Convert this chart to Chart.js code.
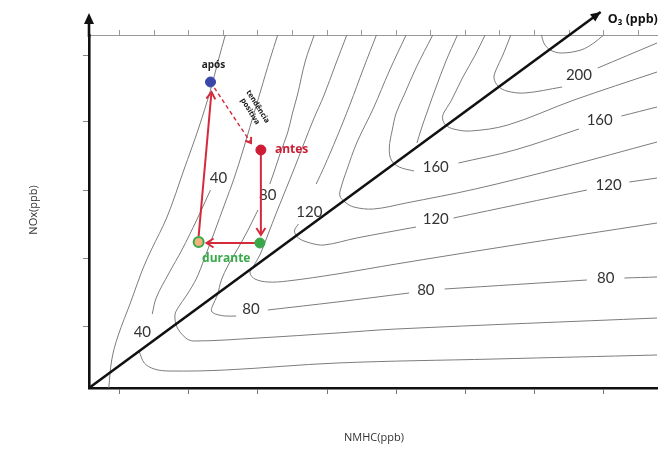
<!DOCTYPE html>
<html>
<head>
<meta charset="utf-8">
<script src="https://cdn.jsdelivr.net/npm/chart.js@4"></script>
<style>
  body{margin:0;background:#fff;}
  #wrap{width:664px;height:450px;}
</style>
</head>
<body>
<div id="wrap"><canvas id="isopleth" width="664" height="450"></canvas></div>
<script>
// axes have no numbers in the original, units are arbitrary ppb steps
const xMax = 115, yMax = 70.6, yArrowTip = 75;
const bottomTicks = [6.2,20.2,34.2,48.2,62.2,76.2,90.2,104.2];
const topTicks = [6.2,13.2,20.2,27.2,34.2,41.2,48.2,55.2,62.2,69.2,76.2,83.2,90.2,97.2,104.2,111.2];
const leftTicks = [12.4,26,39.6,53.2,66.6];

// ozone isopleths, x = NMHC, y = NOx  (null = gap left for a label)
const c20x = [27.6,26.2,24.6,22.2,19.2,15.8,12.6,10.8,8.6,5.8,4.6,4];
const c20y = [70.6,65.6,59.6,52,43.6,34.2,27.6,23.6,17.6,10.2,5.6,0];
const c40x = [24.6,21.8,18.8,16.2,13.6,12.8,11.5,10.2,11.2,13.2,16.2,27.6,50.2,82.2,115];
const c40y = [39.6,33.6,27.6,23,18,14.8,null,7.2,5,3.8,3.4,3.6,5,5.8,6.6];
const c60x = [38.2,36.6,34.8,33,31.2,29.4,27.4,25.4,23.4,21.8,19.8,18,17.4,17.8,19.6,21.2,34.2,50.2,62.2,115];
const c60y = [70.6,65.6,59.6,53.6,47.6,42,36.6,31.2,26,22,18.6,16,14.6,12.2,10,9.4,10,11,11.8,14];
const c80x = [45.6,43.8,42.2,41.2,40.2,38.8,37.6,36.6,35.4,34.2,32.2,30.2,28.2,26.8,26,25,24.8,25.6,27.6,29.8,33,36.2,50.2,64.8,68.4,72,100.8,104.6,108.4,115];
const c80y = [70.6,65.4,58.6,55,51,47.2,43.6,40.8,null,35.6,31.6,28,24.6,21.6,18.6,16.4,15.4,14.8,14.4,14.4,null,15.6,17.2,19,null,19.8,21.6,null,22,22.2];
const c100x = [52.2,49.8,47.6,45.4,43.4,41.6,39.8,38,36.2,34.6,33.2,32.6,33.6,36.2,40.2,50.2,62.2,83.6,115];
const c100y = [70.6,64.4,58.6,53.6,48.6,44,39.6,35.2,30.6,26.6,24.2,23,21.8,21.2,21.4,22.8,24.8,28.2,33];
const c120x = [58.2,55.6,52.8,50.2,47.6,46,44,42.4,41.6,42.4,44.8,47.6,54.2,66.2,70,73.8,100.8,105,109.4,115];
const c120y = [70.6,64,56.6,50.2,44.2,40.8,null,32.8,31.4,30,29,28.6,30,32.2,null,34,39.6,null,41.2,42];
const c140x = [64.2,60.8,57.6,54.2,52.2,51,50.8,51.8,53.6,57.6,64.2,78.2,96.2,115];
const c140y = [70.6,63.4,56,49,43.6,40,38.4,37.2,36.2,35.8,37,39.8,44.2,49.2];
const c160x = [69.6,66.2,63.8,62.2,61.4,60.8,61.2,62.8,65.8,70,74.8,86.2,99.2,103.4,107.8,115];
const c160y = [70.6,64,58.6,55,51.6,48,45.6,44.2,43.4,null,45,47.6,51.8,null,54.4,56.2];
const c170x = [74.6,72.2,70.2,68.6,67.2,66.4];
const c170y = [70.6,65.2,60,55.6,51.6,49];
const c180x = [80.2,78.2,75.6,73.2,71.8,71.6,72.2,73.8,77.2,84.8,98.2,115];
const c180y = [70.6,66.6,62,57.2,55,53.8,52.6,51.8,51.4,52.6,57.6,63.2];
const c200x = [85.4,83.8,82.4,82,82.8,84.6,88.2,95.8,99.2,103,115];
const c200y = [70.6,66.6,63.6,62,60.4,59.4,59,60.2,null,64,69];
const c220x = [91.6,92.2,93.4,95.6,99.6,102.2,104.2];
const c220y = [70.6,68.8,67.6,67,67.6,69,70.6];

const contourText = ['40','40','80','120','80','80','80','120','120','160','160','200'];
const contourLabX = [10.8,26.2,36.2,44.6,32.8,68.2,104.6,70.2,105.2,70.2,103.4,99.2];
const contourLabY = [11.2,42,38.6,35.2,15.8,19.6,22,33.8,40.6,44.2,53.6,62.6];

// ridge line (O3 axis)
const ridgeX = [0,103.6];
const ridgeY = [0,75.2];

// states: após, antes, durante, durante (start)
const stateX = [24.6,34.8,34.6,22.2];
const stateY = [61.2,47.6,29,29.2];
const arrowFromX = [34.8,33.6,22.2];
const arrowFromY = [47.6,29,30.4];
const arrowToX = [34.8,23.8,24.8];
const arrowToY = [30.6,29,59.2];
const trendX = [24.6,32.8];
const trendY = [61.2,49];

const red = '#d42a3c', green = '#38a848';

function pts(xs, ys) {
  return xs.map((v, i) => ({x: v, y: ys[i]}));
}

const contourSets = [[c20x,c20y],[c40x,c40y],[c60x,c60y],[c80x,c80y],[c100x,c100y],[c120x,c120y],
  [c140x,c140y],[c160x,c160y],[c170x,c170y],[c180x,c180y],[c200x,c200y],[c220x,c220y]];

const datasets = contourSets.map(c => ({
  data: pts(c[0], c[1]),
  showLine: true,
  borderColor: '#7c7c7c',
  borderWidth: 1,
  pointRadius: 0,
  tension: 0.35,
  spanGaps: false,
  order: 5
}));

datasets.push({
  data: pts(ridgeX, ridgeY),
  showLine: true, borderColor: '#111', borderWidth: 2.6, pointRadius: 0, clip: false, order: 3
});

for (let i = 0; i < arrowFromX.length; i++) {
  datasets.push({
    data: [{x: arrowFromX[i], y: arrowFromY[i]}, {x: arrowToX[i], y: arrowToY[i]}],
    showLine: true, borderColor: red, borderWidth: 2, pointRadius: 0, order: 2
  });
}
datasets.push({
  data: pts(trendX, trendY),
  showLine: true, borderColor: red, borderWidth: 1.4, borderDash: [4,3], pointRadius: 0, order: 2
});

datasets.push({
  data: pts(stateX, stateY),
  showLine: false,
  pointRadius: 5,
  pointBackgroundColor: ['#3a46a8','#cc1d34',green,'#f2b27c'],
  pointBorderColor: ['#3a46a8','#cc1d34',green,green],
  pointBorderWidth: [1,1,1,2],
  order: 0
});

function head(ctx, x0, y0, x1, y1, len, half, color, filled) {
  const a = Math.atan2(y1 - y0, x1 - x0);
  ctx.save();
  ctx.translate(x1, y1);
  ctx.rotate(a);
  ctx.beginPath();
  ctx.moveTo(-len, -half);
  ctx.lineTo(0, 0);
  ctx.lineTo(-len, half);
  if (filled) {
    ctx.closePath();
    ctx.fillStyle = color;
    ctx.fill();
  } else {
    ctx.strokeStyle = color;
    ctx.lineWidth = 2;
    ctx.stroke();
  }
  ctx.restore();
}

const deco = {
  id: 'deco',
  beforeDatasetsDraw(chart) {
    const {ctx, scales: {x, y}} = chart;
    ctx.save();
    ctx.font = '15px Lato';
    ctx.fillStyle = '#333';
    ctx.textAlign = 'center';
    ctx.textBaseline = 'middle';
    contourText.forEach((t, i) => {
      ctx.fillText(t, x.getPixelForValue(contourLabX[i]), y.getPixelForValue(contourLabY[i]));
    });
    ctx.restore();
  },
  afterDatasetsDraw(chart) {
    const {ctx, chartArea, scales: {x, y}} = chart;
    const px = v => x.getPixelForValue(v), py = v => y.getPixelForValue(v);
    ctx.save();

    // NOx axis arrow
    const tip = py(yArrowTip);
    ctx.strokeStyle = '#111';
    ctx.lineWidth = 2.6;
    ctx.beginPath();
    ctx.moveTo(chartArea.left, chartArea.top + 2);
    ctx.lineTo(chartArea.left, tip + 6);
    ctx.stroke();
    head(ctx, chartArea.left, chartArea.top, chartArea.left, tip, 11, 5, '#111', true);

    // ridge arrow
    head(ctx, px(ridgeX[0]), py(ridgeY[0]), px(ridgeX[1]), py(ridgeY[1]), 10, 4.5, '#111', true);

    // red arrows
    for (let i = 0; i < arrowFromX.length; i++) {
      head(ctx, px(arrowFromX[i]), py(arrowFromY[i]), px(arrowToX[i]), py(arrowToY[i]), 7, 4.5, red, false);
    }
    head(ctx, px(trendX[0]), py(trendY[0]), px(trendX[1]), py(trendY[1]), 5, 3.5, red, false);

    // state labels
    ctx.textBaseline = 'middle';
    ctx.textAlign = 'center';
    ctx.font = 'bold 10px "Open Sans"';
    ctx.fillStyle = '#222';
    ctx.fillText('após', px(stateX[0]) + 3, py(stateY[0]) - 17);
    ctx.textAlign = 'left';
    ctx.font = 'bold 12px "Open Sans"';
    ctx.fillStyle = '#cc1d34';
    ctx.fillText('antes', px(stateX[1]) + 14, py(stateY[1]));
    ctx.textAlign = 'center';
    ctx.fillStyle = green;
    ctx.fillText('durante', (px(stateX[2]) + px(stateX[3])) / 2 - 3, py(stateY[2]) + 16);

    // "tendência positiva"
    ctx.save();
    ctx.translate(px(33.4), py(55.8));
    ctx.rotate(58 * Math.PI / 180);
    ctx.font = 'bold 7.5px "Open Sans"';
    ctx.fillStyle = '#111';
    ctx.fillText('tendência', 0, -4.5);
    ctx.fillText('positiva', 0, 4.5);
    ctx.restore();

    // axis titles
    ctx.font = '11px "Open Sans"';
    ctx.fillStyle = '#333';
    ctx.fillText('NMHC(ppb)', 374, chartArea.bottom + 50);
    ctx.save();
    ctx.translate(34, 210);
    ctx.rotate(-Math.PI / 2);
    ctx.fillText('NOx(ppb)', 0, 0);
    ctx.restore();
    ctx.textAlign = 'left';
    ctx.font = 'bold 12.5px "Open Sans", "DejaVu Sans"';
    ctx.fillStyle = '#111';
    ctx.fillText('O\u2083 (ppb)', px(ridgeX[1]) + 7, py(ridgeY[1]) + 7);
    ctx.restore();
  }
};

const ctx = document.getElementById('isopleth').getContext('2d');
new Chart(ctx, {
  type: 'scatter',
  data: {datasets: datasets},
  options: {
    responsive: false,
    animation: false,
    events: [],
    layout: {padding: 0},
    plugins: {legend: {display: false}, tooltip: {enabled: false}},
    scales: {
      x: {
        type: 'linear', position: 'bottom', min: 0, max: xMax,
        ticks: {display: false},
        afterBuildTicks: s => { s.ticks = bottomTicks.map(v => ({value: v})); },
        afterFit: s => { s.height = 62; },
        grid: {drawOnChartArea: false, tickLength: 6, color: '#777'},
        border: {color: '#111', width: 2.6}
      },
      xTop: {
        type: 'linear', axis: 'x', position: 'top', min: 0, max: xMax,
        ticks: {display: false},
        afterBuildTicks: s => { s.ticks = topTicks.map(v => ({value: v})); },
        afterFit: s => { s.height = 35; },
        grid: {drawOnChartArea: false, tickLength: 5, color: '#999'},
        border: {color: '#999', width: 1}
      },
      y: {
        type: 'linear', min: 0, max: yMax,
        ticks: {display: false},
        afterBuildTicks: s => { s.ticks = leftTicks.map(v => ({value: v})); },
        afterFit: s => { s.width = 89; },
        grid: {drawOnChartArea: false, tickLength: 6, color: '#888'},
        border: {color: '#111', width: 2.6}
      }
    }
  },
  plugins: [deco]
});
</script>
</body>
</html>
